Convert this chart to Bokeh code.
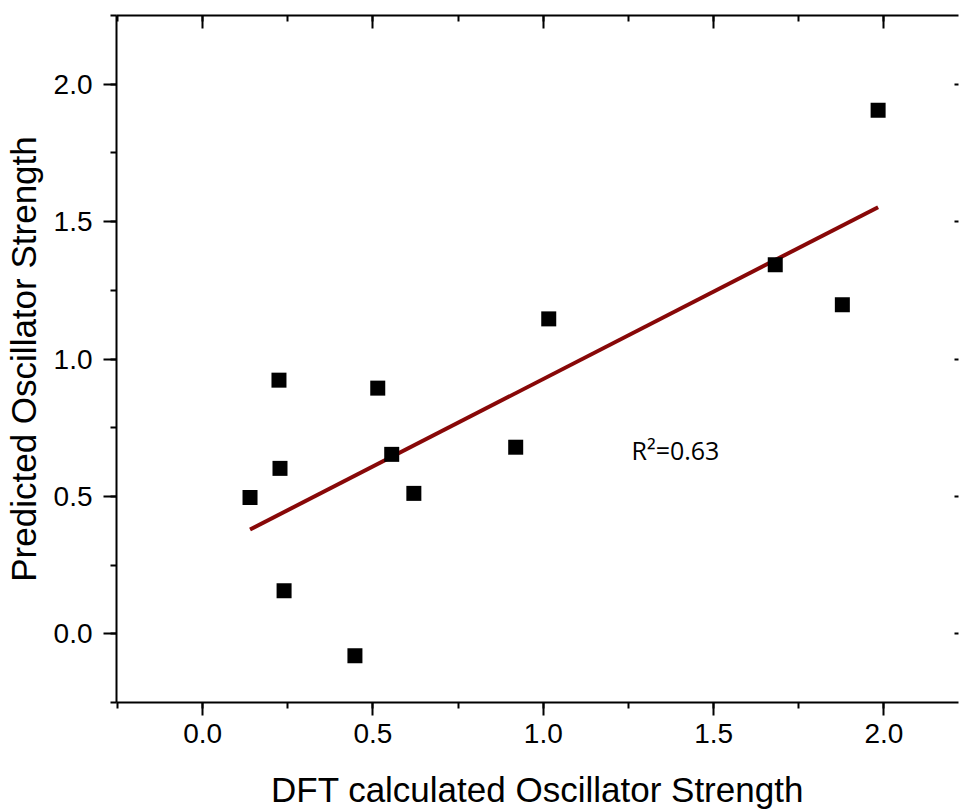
import numpy as np
from bokeh.plotting import figure
from bokeh.models import (Range1d, LinearAxis, SingleIntervalTicker, ColumnDataSource, Label,
                          PrintfTickFormatter, CustomJSTickFormatter)
from bokeh.embed import file_html
from bokeh.resources import INLINE

# Data
dft_strength = [0.139, 0.224, 0.227, 0.239, 0.447, 0.514, 0.555, 0.620, 0.919, 1.016, 1.681, 1.878, 1.983]
predicted_strength = [0.496, 0.923, 0.602, 0.157, -0.080, 0.894, 0.653, 0.511, 0.679, 1.146, 1.343, 1.197, 1.905]
r2_label = "R\u00b2=0.63"
x_title = "DFT calculated Oscillator Strength"
y_title = "Predicted Oscillator Strength"

FONT = "Liberation Sans"

p = figure(width=959, height=811, output_backend="svg", toolbar_location=None,
           x_range=Range1d(-0.253, 2.219), y_range=Range1d(-0.25, 2.25),
           min_border_left=115, min_border_right=1, min_border_top=15, min_border_bottom=109)
p.outline_line_color = None
p.xgrid.visible = False
p.ygrid.visible = False
p.background_fill_color = "white"
p.border_fill_color = "white"

def style_main(ax, title):
    ax.ticker = SingleIntervalTicker(interval=0.5, num_minor_ticks=2)
    ax.formatter = PrintfTickFormatter(format="%.1f")
    ax.axis_label = title
    ax.axis_label_text_font = FONT
    ax.axis_label_text_font_size = "35px"
    ax.axis_label_text_font_style = "normal"
    ax.axis_label_text_color = "black"
    ax.major_label_text_font = FONT
    ax.major_label_text_font_size = "28px"
    ax.major_label_text_color = "black"
    ax.axis_line_width = 2
    ax.axis_line_color = "black"
    ax.major_tick_line_width = 2
    ax.minor_tick_line_width = 2
    ax.major_tick_line_color = "black"
    ax.minor_tick_line_color = "black"
    ax.major_tick_out = 13
    ax.major_tick_in = 0
    ax.minor_tick_out = 6
    ax.minor_tick_in = 0

xa = p.xaxis[0]
ya = p.yaxis[0]
style_main(xa, x_title)
style_main(ya, y_title)
xa.major_label_standoff = 8
xa.axis_label_standoff = 24
ya.major_label_standoff = 11
ya.axis_label_standoff = 8

# mirrored axes (top / right) with inward ticks, no labels
blank = CustomJSTickFormatter(code="return '';")
top = LinearAxis(ticker=SingleIntervalTicker(interval=0.5, num_minor_ticks=2), formatter=blank)
right = LinearAxis(ticker=SingleIntervalTicker(interval=0.5, num_minor_ticks=2), formatter=blank)
for ax in (top, right):
    ax.major_label_standoff = 0
    ax.axis_line_width = 2
    ax.axis_line_color = "black"
    ax.major_tick_line_width = 2
    ax.minor_tick_line_width = 2
    ax.major_tick_line_color = "black"
    ax.minor_tick_line_color = "black"
    ax.major_tick_out = 0
    ax.minor_tick_out = 0
top.major_tick_in = 13
top.minor_tick_in = 6
right.axis_line_color = None
right.major_tick_in = 4
right.minor_tick_in = 0
p.add_layout(top, "above")
p.add_layout(right, "right")

# linear fit
xs = np.array(dft_strength)
ys = np.array(predicted_strength)
slope, intercept = np.polyfit(xs, ys, 1)
fit_x = [xs.min(), xs.max()]
fit_y = [slope * v + intercept for v in fit_x]
p.line(fit_x, fit_y, line_color="#880808", line_width=4)

src = ColumnDataSource(dict(x=dft_strength, y=predicted_strength))
p.scatter("x", "y", source=src, marker="square", size=15, fill_color="black", line_color="black", line_width=0)

p.add_layout(Label(x=1.259, y=0.668, text=r2_label, text_font="Open Sans", text_font_size="25px",
                   text_color="black", text_align="left", text_baseline="alphabetic"))

open("out.html", "w").write(file_html(p, INLINE))
